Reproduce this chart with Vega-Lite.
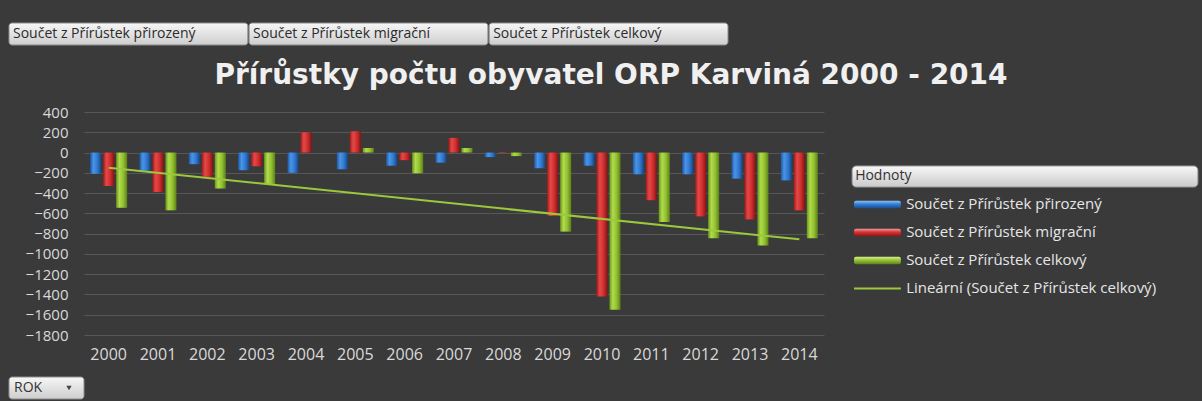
{
  "$schema": "https://vega.github.io/schema/vega-lite/v6.json",
  "background": "#3a3a3a",
  "padding": {"left": 8, "top": 22, "right": 4, "bottom": 3},
  "config": {"view": {"stroke": null}, "font": "Open Sans"},
  "datasets": {
    "d": [
      {"rok": "2000", "series": "Součet z Přírůstek přirozený", "value": -210},
      {"rok": "2000", "series": "Součet z Přírůstek migrační", "value": -330},
      {"rok": "2000", "series": "Součet z Přírůstek celkový", "value": -545},
      {"rok": "2001", "series": "Součet z Přírůstek přirozený", "value": -180},
      {"rok": "2001", "series": "Součet z Přírůstek migrační", "value": -390},
      {"rok": "2001", "series": "Součet z Přírůstek celkový", "value": -570},
      {"rok": "2002", "series": "Součet z Přírůstek přirozený", "value": -115},
      {"rok": "2002", "series": "Součet z Přírůstek migrační", "value": -240},
      {"rok": "2002", "series": "Součet z Přírůstek celkový", "value": -355},
      {"rok": "2003", "series": "Součet z Přírůstek přirozený", "value": -175},
      {"rok": "2003", "series": "Součet z Přírůstek migrační", "value": -135},
      {"rok": "2003", "series": "Součet z Přírůstek celkový", "value": -310},
      {"rok": "2004", "series": "Součet z Přírůstek přirozený", "value": -200},
      {"rok": "2004", "series": "Součet z Přírůstek migrační", "value": 200},
      {"rok": "2004", "series": "Součet z Přírůstek celkový", "value": 0},
      {"rok": "2005", "series": "Součet z Přírůstek přirozený", "value": -165},
      {"rok": "2005", "series": "Součet z Přírůstek migrační", "value": 210},
      {"rok": "2005", "series": "Součet z Přírůstek celkový", "value": 45},
      {"rok": "2006", "series": "Součet z Přírůstek přirozený", "value": -130},
      {"rok": "2006", "series": "Součet z Přírůstek migrační", "value": -75},
      {"rok": "2006", "series": "Součet z Přírůstek celkový", "value": -205},
      {"rok": "2007", "series": "Součet z Přírůstek přirozený", "value": -100},
      {"rok": "2007", "series": "Součet z Přírůstek migrační", "value": 145},
      {"rok": "2007", "series": "Součet z Přírůstek celkový", "value": 45},
      {"rok": "2008", "series": "Součet z Přírůstek přirozený", "value": -45},
      {"rok": "2008", "series": "Součet z Přírůstek migrační", "value": 5},
      {"rok": "2008", "series": "Součet z Přírůstek celkový", "value": -35},
      {"rok": "2009", "series": "Součet z Přírůstek přirozený", "value": -155},
      {"rok": "2009", "series": "Součet z Přírůstek migrační", "value": -625},
      {"rok": "2009", "series": "Součet z Přírůstek celkový", "value": -780},
      {"rok": "2010", "series": "Součet z Přírůstek přirozený", "value": -130},
      {"rok": "2010", "series": "Součet z Přírůstek migrační", "value": -1420},
      {"rok": "2010", "series": "Součet z Přírůstek celkový", "value": -1550},
      {"rok": "2011", "series": "Součet z Přírůstek přirozený", "value": -215},
      {"rok": "2011", "series": "Součet z Přírůstek migrační", "value": -470},
      {"rok": "2011", "series": "Součet z Přírůstek celkový", "value": -685},
      {"rok": "2012", "series": "Součet z Přírůstek přirozený", "value": -215},
      {"rok": "2012", "series": "Součet z Přírůstek migrační", "value": -630},
      {"rok": "2012", "series": "Součet z Přírůstek celkový", "value": -845},
      {"rok": "2013", "series": "Součet z Přírůstek přirozený", "value": -258},
      {"rok": "2013", "series": "Součet z Přírůstek migrační", "value": -660},
      {"rok": "2013", "series": "Součet z Přírůstek celkový", "value": -918},
      {"rok": "2014", "series": "Součet z Přírůstek přirozený", "value": -275},
      {"rok": "2014", "series": "Součet z Přírůstek migrační", "value": -570},
      {"rok": "2014", "series": "Součet z Přírůstek celkový", "value": -845}
    ],
    "trend": [
      {"rok": "2000", "value": -150},
      {"rok": "2014", "value": -856}
    ],
    "buttons": [
      {"label": "Součet z Přírůstek přirozený"},
      {"label": "Součet z Přírůstek migrační"},
      {"label": "Součet z Přírůstek celkový"}
    ],
    "legend": [
      {"label": "Hodnoty", "kind": "header"},
      {"label": "Součet z Přírůstek přirozený", "kind": "bar"},
      {"label": "Součet z Přírůstek migrační", "kind": "bar"},
      {"label": "Součet z Přírůstek celkový", "kind": "bar"},
      {"label": "Lineární (Součet z Přírůstek celkový)", "kind": "line"}
    ]
  },
  "vconcat": [
    {
      "width": 719,
      "height": 22,
      "data": {"name": "buttons"},
      "layer": [
        {
          "mark": {"type": "rect", "cornerRadius": 3, "stroke": "#8c8c8c", "strokeWidth": 1,
            "fill": {"gradient": "linear", "x1": 0, "y1": 0, "x2": 0, "y2": 1,
              "stops": [{"offset": 0, "color": "#f7f7f7"}, {"offset": 1, "color": "#cdcdcd"}]}},
          "encoding": {
            "x": {"field": "label", "type": "nominal", "sort": null, "axis": null,
              "scale": {"paddingInner": 0.005, "paddingOuter": 0}}
          }
        },
        {
          "mark": {"type": "text", "align": "left", "dx": 4, "fontSize": 14, "color": "#2b2b2b"},
          "encoding": {
            "x": {"field": "label", "type": "nominal", "sort": null, "axis": null, "bandPosition": 0},
            "text": {"field": "label"}
          }
        }
      ]
    },
    {
      "hconcat": [
        {
          "width": 75,
          "height": 287,
          "data": {"values": [{"label": "ROK"}]},
          "encoding": {
            "y": {"datum": 0.0383, "type": "quantitative", "axis": null,
              "scale": {"domain": [0, 1], "nice": false, "zero": false}}
          },
          "layer": [
            {
              "mark": {"type": "rect", "cornerRadius": 3, "stroke": "#8c8c8c", "strokeWidth": 1,
                "fill": {"gradient": "linear", "x1": 0, "y1": 0, "x2": 0, "y2": 1,
                  "stops": [{"offset": 0, "color": "#f7f7f7"}, {"offset": 1, "color": "#cdcdcd"}]}},
              "encoding": {
                "y": {"datum": 0, "type": "quantitative", "axis": null},
                "y2": {"datum": 0.0767},
                "x": {"datum": 0, "type": "quantitative", "axis": null,
                  "scale": {"domain": [0, 1], "nice": false, "zero": false}},
                "x2": {"datum": 1}
              }
            },
            {
              "mark": {"type": "text", "align": "left", "dx": 5, "fontSize": 14, "color": "#333333"},
              "encoding": {
                "x": {"datum": 0, "type": "quantitative", "axis": null},
                "text": {"field": "label"}
              }
            },
            {
              "mark": {"type": "point", "shape": "triangle-down", "filled": true, "color": "#444444", "size": 28, "opacity": 1},
              "encoding": {
                "x": {"datum": 0.8, "type": "quantitative", "axis": null}
              }
            }
          ]
        },
        {
          "width": 740,
          "height": 223,
          "title": {"text": "Přírůstky počtu obyvatel ORP Karviná 2000 - 2014", "anchor": "middle", "frame": "group",
            "dx": 157, "offset": 15, "font": "DejaVu Sans", "fontWeight": "bold", "fontSize": 28, "color": "#f0f0f0"},
          "encoding": {
            "x": {"field": "rok", "type": "ordinal",
              "scale": {"paddingInner": 0.25, "paddingOuter": 0.125},
              "axis": {"title": null, "labelAngle": 0, "domain": false, "ticks": false, "labelPadding": 11,
                "labelColor": "#d9d9d9", "labelFont": "Open Sans", "labelFontSize": 16, "grid": false}},
            "y": {"field": "value", "type": "quantitative",
              "scale": {"domain": [-1800, 400], "nice": false},
              "axis": {"title": null, "values": [-1800, -1600, -1400, -1200, -1000, -800, -600, -400, -200, 0, 200, 400],
                "format": "d", "domain": false, "ticks": false, "labelPadding": 16, "grid": true, "gridColor": "#575757",
                "labelColor": "#d9d9d9", "labelFont": "Open Sans", "labelFontSize": 15}}
          },
          "layer": [
            {
              "data": {"name": "d"},
              "transform": [{"filter": "datum.series === 'Součet z Přírůstek přirozený'"}],
              "mark": {"type": "bar",
                "fill": {"gradient": "linear", "x1": 0, "y1": 0, "x2": 1, "y2": 0,
                  "stops": [{"offset": 0, "color": "#1d58a8"}, {"offset": 0.3, "color": "#4a94e6"}, {"offset": 0.65, "color": "#3179cf"}, {"offset": 1, "color": "#164685"}]}},
              "encoding": {
                "xOffset": {"field": "series", "type": "nominal",
                  "scale": {"domain": ["Součet z Přírůstek přirozený", "Součet z Přírůstek migrační", "Součet z Přírůstek celkový"], "paddingInner": 0.15}}
              }
            },
            {
              "data": {"name": "d"},
              "transform": [{"filter": "datum.series === 'Součet z Přírůstek migrační'"}],
              "mark": {"type": "bar",
                "fill": {"gradient": "linear", "x1": 0, "y1": 0, "x2": 1, "y2": 0,
                  "stops": [{"offset": 0, "color": "#a11a1a"}, {"offset": 0.3, "color": "#e54848"}, {"offset": 0.65, "color": "#cf2e2e"}, {"offset": 1, "color": "#871313"}]}},
              "encoding": {
                "xOffset": {"field": "series", "type": "nominal"}
              }
            },
            {
              "data": {"name": "d"},
              "transform": [{"filter": "datum.series === 'Součet z Přírůstek celkový'"}],
              "mark": {"type": "bar",
                "fill": {"gradient": "linear", "x1": 0, "y1": 0, "x2": 1, "y2": 0,
                  "stops": [{"offset": 0, "color": "#6b941c"}, {"offset": 0.3, "color": "#b0dc4c"}, {"offset": 0.65, "color": "#92c030"}, {"offset": 1, "color": "#5c8216"}]}},
              "encoding": {
                "xOffset": {"field": "series", "type": "nominal"}
              }
            },
            {
              "data": {"values": [{}]},
              "mark": {"type": "rule", "color": "#c4c4c4", "strokeWidth": 2},
              "encoding": {"y": {"datum": 0}, "x": null}
            },
            {
              "data": {"name": "trend"},
              "mark": {"type": "line", "color": "#9bc83c", "strokeWidth": 2},
              "encoding": {}
            }
          ]
        },
        {
          "width": 375,
          "height": 223,
          "data": {"name": "legend"},
          "encoding": {
            "y": {"field": "label", "type": "nominal", "axis": null,
              "scale": {"domain": ["_a", "Hodnoty", "Součet z Přírůstek přirozený", "Součet z Přírůstek migrační", "Součet z Přírůstek celkový", "Lineární (Součet z Přírůstek celkový)", "_b"],
                "paddingInner": 0, "paddingOuter": 0.482, "align": 0.833}}
          },
          "layer": [
            {
              "transform": [{"filter": "datum.kind === 'header'"}],
              "mark": {"type": "bar", "cornerRadius": 4, "stroke": "#9a9a9a", "strokeWidth": 1, "height": {"band": 0.75},
                "fill": {"gradient": "linear", "x1": 0, "y1": 0, "x2": 0, "y2": 1,
                  "stops": [{"offset": 0, "color": "#f7f7f7"}, {"offset": 1, "color": "#cbcbcb"}]}},
              "encoding": {
                "x": {"datum": 0.075, "type": "quantitative", "axis": null,
                  "scale": {"domain": [0, 1], "nice": false, "zero": false}},
                "x2": {"datum": 0.997}
              }
            },
            {
              "transform": [{"filter": "datum.kind === 'header'"}],
              "mark": {"type": "text", "align": "left", "fontSize": 14, "color": "#333333"},
              "encoding": {
                "x": {"datum": 0.083, "type": "quantitative", "axis": null},
                "text": {"field": "label"}
              }
            },
            {
              "transform": [{"filter": "datum.label === 'Součet z Přírůstek přirozený'"}],
              "mark": {"type": "bar", "cornerRadius": 2, "height": {"band": 0.27},
                "fill": {"gradient": "linear", "x1": 0, "y1": 0, "x2": 0, "y2": 1,
                  "stops": [{"offset": 0, "color": "#8cc4f7"}, {"offset": 0.45, "color": "#3580d8"}, {"offset": 1, "color": "#184c92"}]}},
              "encoding": {
                "x": {"datum": 0.08, "type": "quantitative", "axis": null},
                "x2": {"datum": 0.205}
              }
            },
            {
              "transform": [{"filter": "datum.label === 'Součet z Přírůstek migrační'"}],
              "mark": {"type": "bar", "cornerRadius": 2, "height": {"band": 0.27},
                "fill": {"gradient": "linear", "x1": 0, "y1": 0, "x2": 0, "y2": 1,
                  "stops": [{"offset": 0, "color": "#f29a9a"}, {"offset": 0.45, "color": "#d93434"}, {"offset": 1, "color": "#8a1414"}]}},
              "encoding": {
                "x": {"datum": 0.08, "type": "quantitative", "axis": null},
                "x2": {"datum": 0.205}
              }
            },
            {
              "transform": [{"filter": "datum.label === 'Součet z Přírůstek celkový'"}],
              "mark": {"type": "bar", "cornerRadius": 2, "height": {"band": 0.27},
                "fill": {"gradient": "linear", "x1": 0, "y1": 0, "x2": 0, "y2": 1,
                  "stops": [{"offset": 0, "color": "#d8f08e"}, {"offset": 0.45, "color": "#98c436"}, {"offset": 1, "color": "#5c8216"}]}},
              "encoding": {
                "x": {"datum": 0.08, "type": "quantitative", "axis": null},
                "x2": {"datum": 0.205}
              }
            },
            {
              "transform": [{"filter": "datum.kind === 'line'"}],
              "mark": {"type": "rule", "color": "#9bc83c", "strokeWidth": 2},
              "encoding": {
                "x": {"datum": 0.08, "type": "quantitative", "axis": null},
                "x2": {"datum": 0.205}
              }
            },
            {
              "transform": [{"filter": "datum.kind !== 'header'"}],
              "mark": {"type": "text", "align": "left", "fontSize": 15, "color": "#e6e6e6"},
              "encoding": {
                "x": {"datum": 0.219, "type": "quantitative", "axis": null},
                "text": {"field": "label"}
              }
            }
          ]
        }
      ],
      "spacing": 0,
      "bounds": "flush"
    }
  ],
  "spacing": 67,
  "bounds": "flush"
}
